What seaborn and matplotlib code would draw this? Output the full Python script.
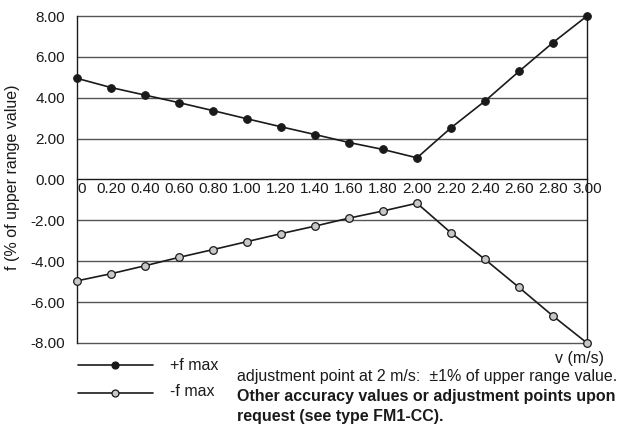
import matplotlib
matplotlib.use("Agg")
import matplotlib.pyplot as plt
import seaborn as sns
import pandas as pd

v = [0.0, 0.2, 0.4, 0.6, 0.8, 1.0, 1.2, 1.4, 1.6, 1.8, 2.0, 2.2, 2.4, 2.6, 2.8, 3.0]
f_plus = [4.95, 4.50, 4.13, 3.76, 3.37, 2.97, 2.58, 2.20, 1.81, 1.47, 1.06,
          2.53, 3.84, 5.29, 6.70, 8.00]
f_minus = [-4.96, -4.61, -4.22, -3.81, -3.43, -3.04, -2.65, -2.28, -1.89, -1.54, -1.16,
           -2.61, -3.91, -5.28, -6.68, -8.00]
x_ticks = v
x_labels = ["0"] + ["%.2f" % t for t in v[1:]]
y_ticks = [-8, -6, -4, -2, 0, 2, 4, 6, 8]

df = pd.DataFrame({"v": v, "plus": f_plus, "minus": f_minus})

sns.set_style("white")
plt.rcParams["font.family"] = ["Liberation Sans", "DejaVu Sans"]

ink = "#1a1a1a"
fig = plt.figure(figsize=(6.24, 4.28), dpi=100)
ax = fig.add_axes([77 / 624, 1 - 343 / 428, 510 / 624, 327 / 428])

for yt in y_ticks:
    if yt != 0:
        ax.axhline(yt, color="#555555", lw=1.0, zorder=1, clip_on=False)

sns.lineplot(data=df, x="v", y="plus", ax=ax, color=ink, lw=1.2,
             marker="o", markersize=5.5, markerfacecolor=ink,
             markeredgecolor=ink, clip_on=False, zorder=3)
sns.lineplot(data=df, x="v", y="minus", ax=ax, color=ink, lw=1.2,
             marker="o", markersize=5.5, markerfacecolor="#c8c8c8",
             markeredgecolor=ink, markeredgewidth=0.9, clip_on=False, zorder=3)

ax.set_xlim(0, 3.0)
ax.set_ylim(-8, 8)
ax.spines["bottom"].set_position(("data", 0))
ax.spines["top"].set_visible(False)
for s in ["left", "right", "bottom"]:
    ax.spines[s].set_color(ink)
    ax.spines[s].set_linewidth(1.0)

ax.set_xticks(x_ticks)
ax.set_xticklabels(x_labels)
ax.tick_params(axis="x", direction="in", length=4, width=0.8, pad=2,
               colors=ink, labelsize=11)
ax.get_xticklabels()[0].set_horizontalalignment("left")
ax.set_yticks(y_ticks)
ax.set_yticklabels(["%.2f" % t for t in y_ticks])
ax.tick_params(axis="y", length=0, pad=8.6, colors=ink, labelsize=11)

ax.set_xlabel("")
ax.set_ylabel("f (% of upper range value)", fontsize=11.5, color=ink)
ax.yaxis.set_label_coords((13 - 77) / 510, (343 - 177) / 327)
ax.yaxis.label.set_verticalalignment("center")

# legend and notes below the chart
for y_px, face in [(365, ink), (393, "#c8c8c8")]:
    fy = 1 - y_px / 428
    fig.lines.append(plt.Line2D([78 / 624, 115 / 624, 153 / 624], [fy] * 3,
                                transform=fig.transFigure, color=ink, lw=1.2,
                                marker="o", markevery=[1], markersize=5,
                                markerfacecolor=face, markeredgecolor=ink,
                                markeredgewidth=0.9))

fig.text(170 / 624, 1 - 366 / 428, "+f max", fontsize=11.5, va="center", color=ink)
fig.text(170 / 624, 1 - 392 / 428, "-f max", fontsize=11.5, va="center", color=ink)
fig.text(604 / 624, 1 - 358 / 428, "v (m/s)", fontsize=11.5, va="center", ha="right",
         color=ink)
fig.text(237 / 624, 1 - 377 / 428, "adjustment point at 2 m/s:  \u00b11% of upper range value.",
         fontsize=11.5, va="center", color=ink)
fig.text(237 / 624, 1 - 397 / 428, "Other accuracy values or adjustment points upon",
         fontsize=11.5, va="center", fontweight="bold", color=ink)
fig.text(237 / 624, 1 - 417 / 428, "request (see type FM1-CC).",
         fontsize=11.5, va="center", fontweight="bold", color=ink)

fig.savefig("out.png", dpi=100)
